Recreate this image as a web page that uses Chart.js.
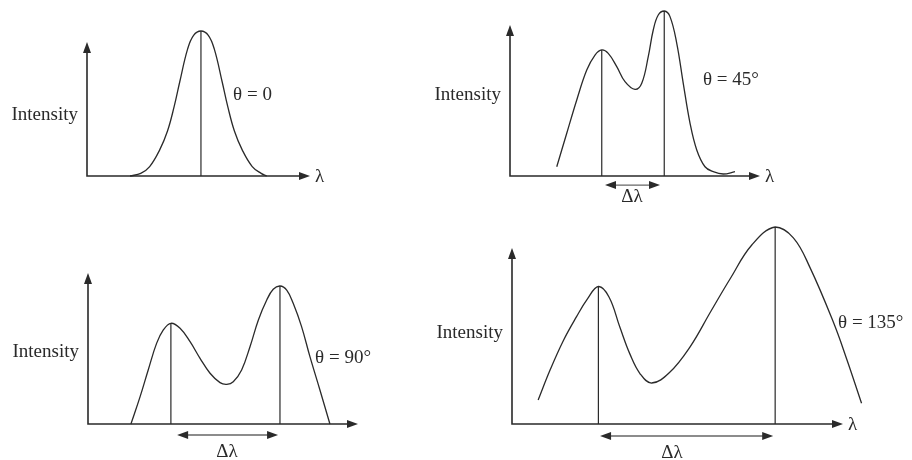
<!DOCTYPE html>
<html>
<head>
<meta charset="utf-8">
<script src="https://cdn.jsdelivr.net/npm/chart.js@4"></script>
<style>
  html, body { margin: 0; padding: 0; background: #fff; }
  #wrap { position: relative; width: 912px; height: 460px; }
  #wrap canvas { position: absolute; left: 0; top: 0; }
</style>
</head>
<body>
<div id="wrap">
  <canvas id="c1" width="912" height="460"></canvas>
  <canvas id="c2" width="912" height="460"></canvas>
  <canvas id="c3" width="912" height="460"></canvas>
  <canvas id="c4" width="912" height="460"></canvas>
</div>
<script>
// wavelength (arbitrary units, 0 = axis origin, 100 = arrow tip) and intensity (0..100)
const lambda0 = [19.3, 24.1, 28.1, 32.6, 36.1, 39.1, 41.6, 45.1, 47.8, 51.1, 54.4, 57.1, 60.6, 63.1, 66.1, 69.6, 74.1, 78.1, 80.6];
const intensity0 = [0, 1.8, 6.5, 18, 31, 48, 65, 87.5, 97, 100, 97, 87.5, 65, 48, 31, 18, 6.5, 1.8, 0];
const lines0 = [51.1];
const heights0 = [100];

const lambda45 = [18.7, 22.7, 26.7, 30.7, 34, 36.7, 39.3, 42.7, 46, 50, 52.7, 55.3, 57.3, 59.3, 61.7, 64, 66.7, 69.3, 72, 74.7, 78, 81.3, 85.3, 90];
const intensity45 = [5.6, 25.9, 46.1, 64.2, 73.3, 76.4, 74.3, 66.3, 57.2, 52.5, 56.2, 72.3, 88.5, 97.6, 100, 96.6, 80.4, 56.2, 32.1, 15.8, 5.6, 2.6, 1.2, 2.6];
const lines45 = [36.7, 61.7];
const heights45 = [76.4, 100];

const lambda90 = [15.9, 19.3, 22.3, 25.4, 27.9, 30.7, 34.1, 37.8, 41.5, 45.2, 48.9, 51.4, 53.8, 56.9, 60, 63.1, 66.2, 68.6, 71.1, 73.6, 76, 79.1, 82.2, 85.9, 89.6];
const intensity90 = [0, 18.1, 35.8, 53.4, 62.3, 66.7, 63.4, 54.5, 43.5, 33.6, 27.4, 26.3, 28, 35.8, 51.2, 68.9, 82.1, 89.2, 91.4, 88.7, 79.9, 64.5, 44.6, 22.5, 0];
const lines90 = [30.7, 71.1];
const heights90 = [66.7, 91.4];

const lambda135 = [7.9, 11.5, 15.5, 19.5, 22.8, 26.1, 29.3, 32.6, 35.6, 38.7, 42.2, 47.5, 53.8, 60, 66, 72.5, 79.5, 85, 90, 97.1, 101.1, 105.6];
const intensity135 = [12.2, 27.4, 42.3, 54.5, 63.5, 69.8, 64.5, 49.1, 35.6, 25.5, 20.8, 26, 39.2, 57, 74, 91, 100, 94.5, 79.5, 51.6, 33, 10.5];
const lines135 = [26.1, 79.5];
const heights135 = [69.8, 100];

const ink = '#2a2a2a';
const font = '19px "Liberation Serif", "DejaVu Serif", serif';

function arrowHead(ctx, x, y, dir) {
  const L = 11, W = 4;
  ctx.beginPath();
  if (dir === 'up') { ctx.moveTo(x, y); ctx.lineTo(x - W, y + L); ctx.lineTo(x + W, y + L); }
  else if (dir === 'right') { ctx.moveTo(x, y); ctx.lineTo(x - L, y - W); ctx.lineTo(x - L, y + W); }
  else { ctx.moveTo(x, y); ctx.lineTo(x + L, y - W); ctx.lineTo(x + L, y + W); }
  ctx.closePath();
  ctx.fill();
}

const sketch = {
  id: 'sketch',
  beforeDatasetsDraw(chart, args, opts) {
    const ctx = chart.ctx, xs = chart.scales.x, ys = chart.scales.y;
    const x0 = xs.getPixelForValue(0), y0 = ys.getPixelForValue(0);
    const yt = ys.getPixelForValue(opts.yTip), xt = xs.getPixelForValue(100);
    ctx.save();
    ctx.strokeStyle = ink; ctx.fillStyle = ink; ctx.lineWidth = 1.6;
    ctx.beginPath();
    ctx.moveTo(x0, yt + 8); ctx.lineTo(x0, y0); ctx.lineTo(xt - 8, y0);
    ctx.stroke();
    arrowHead(ctx, x0, yt, 'up');
    arrowHead(ctx, xt, y0, 'right');
    ctx.restore();
  },
  afterDatasetsDraw(chart, args, opts) {
    const ctx = chart.ctx, xs = chart.scales.x, ys = chart.scales.y;
    const x0 = xs.getPixelForValue(0), y0 = ys.getPixelForValue(0);
    ctx.save();
    ctx.fillStyle = ink; ctx.font = font; ctx.textBaseline = 'middle';
    ctx.textAlign = 'right';
    ctx.fillText('Intensity', x0 - 9, ys.getPixelForValue(opts.intensityY));
    ctx.textAlign = 'left';
    ctx.fillText(opts.theta, xs.getPixelForValue(opts.thetaAt[0]), ys.getPixelForValue(opts.thetaAt[1]));
    if (opts.showLambda) ctx.fillText('λ', xs.getPixelForValue(100) + 5, y0 + 1);
    if (opts.delta) {
      const d = opts.delta;
      const a = xs.getPixelForValue(d.from), b = xs.getPixelForValue(d.to), y = ys.getPixelForValue(d.y);
      ctx.strokeStyle = '#666'; ctx.lineWidth = 1.3;
      ctx.beginPath(); ctx.moveTo(a + 8, y); ctx.lineTo(b - 8, y); ctx.stroke();
      arrowHead(ctx, a, y, 'left');
      arrowHead(ctx, b, y, 'right');
      ctx.textAlign = 'center';
      ctx.fillText('Δλ', xs.getPixelForValue(d.labelX), ys.getPixelForValue(d.labelY));
    }
    ctx.restore();
  }
};

function makePanel(id, lam, inten, lines, heights, xMax, padding, sk) {
  const datasets = [{
    data: lam.map((x, i) => ({ x: x, y: inten[i] })),
    borderColor: ink, borderWidth: 1.3, pointRadius: 0,
    tension: 0.4, clip: false
  }];
  lines.forEach((x, i) => datasets.push({
    data: [{ x: x, y: 0 }, { x: x, y: heights[i] }],
    borderColor: ink, borderWidth: 1.2, pointRadius: 0, clip: false
  }));
  new Chart(document.getElementById(id), {
    type: 'line',
    data: { datasets: datasets },
    options: {
      responsive: false, animation: false, events: [],
      layout: { padding: padding },
      scales: {
        x: { type: 'linear', display: false, min: 0, max: xMax },
        y: { type: 'linear', display: false, min: 0, max: 100 }
      },
      plugins: { legend: { display: false }, tooltip: { enabled: false }, sketch: sk }
    },
    plugins: [sketch]
  });
}

makePanel('c1', lambda0, intensity0, lines0, heights0, 100,
  { left: 87, right: 602, top: 31, bottom: 284 },
  { yTip: 92.4, intensityY: 42, theta: 'θ = 0', thetaAt: [65.5, 55.9], showLambda: true });

makePanel('c2', lambda45, intensity45, lines45, heights45, 100,
  { left: 510, right: 152, top: 11, bottom: 284 },
  { yTip: 91.5, intensityY: 49, theta: 'θ = 45°', thetaAt: [77.2, 58.2], showLambda: true,
    delta: { from: 38, to: 60, y: -5.5, labelX: 48.8, labelY: -12.7 } });

makePanel('c3', lambda90, intensity90, lines90, heights90, 100,
  { left: 88, right: 554, top: 273, bottom: 36 },
  { yTip: 100, intensityY: 47.7, theta: 'θ = 90°', thetaAt: [84.1, 43.7], showLambda: false,
    delta: { from: 33, to: 70.4, y: -7.3, labelX: 51.5, labelY: -18.5 } });

makePanel('c4', lambda135, intensity135, lines135, heights135, 108,
  { left: 512, right: 42.5, top: 227, bottom: 36 },
  { yTip: 89.3, intensityY: 46.2, theta: 'θ = 135°', thetaAt: [98.5, 51.3], showLambda: true,
    delta: { from: 26.6, to: 78.9, y: -6.1, labelX: 48.3, labelY: -14.7 } });
</script>
</body>
</html>
